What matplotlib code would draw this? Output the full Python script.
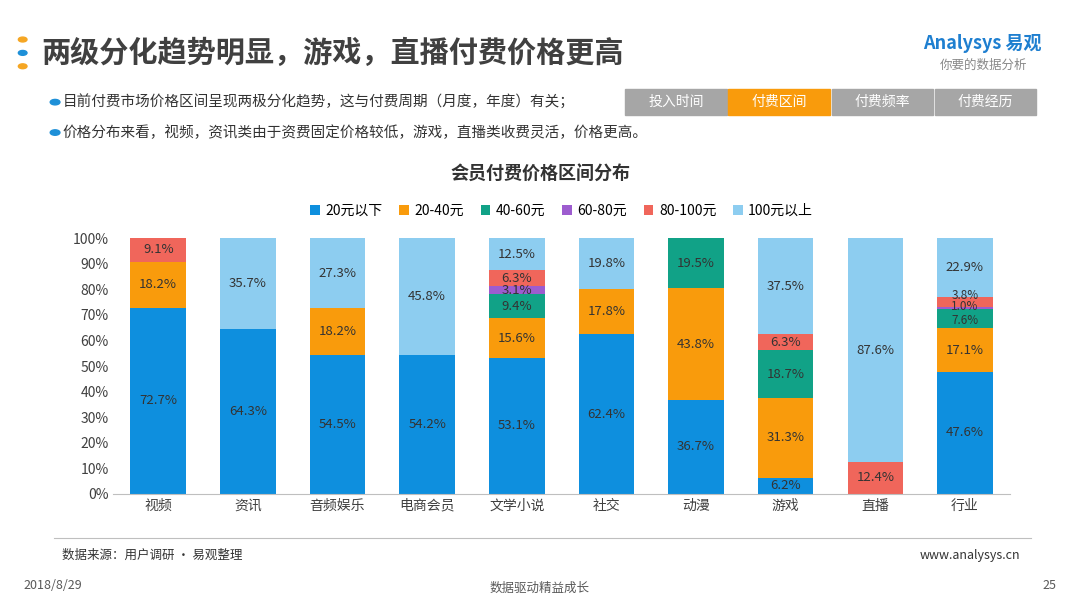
import numpy as np
import matplotlib.pyplot as plt
from matplotlib.patches import Rectangle

plt.rcParams['font.family'] = ['Noto Sans CJK SC', 'DejaVu Sans']

categories = ['视频', '资讯', '音频娱乐', '电商会员', '文学小说', '社交', '动漫', '游戏', '直播', '行业']
series_names = ['20元以下', '20-40元', '40-60元', '60-80元', '80-100元', '100元以上']
s20 = [72.7, 64.3, 54.5, 54.2, 53.1, 62.4, 36.7, 6.2, 0, 47.6]
s40 = [18.2, 0, 18.2, 0, 15.6, 17.8, 43.8, 31.3, 0, 17.1]
s60 = [0, 0, 0, 0, 9.4, 0, 19.5, 18.7, 0, 7.6]
s80 = [0, 0, 0, 0, 3.1, 0, 0, 0, 0, 1.0]
s100 = [9.1, 0, 0, 0, 6.3, 0, 0, 6.3, 12.4, 3.8]
s_up = [0, 35.7, 27.3, 45.8, 12.5, 19.8, 0, 37.5, 87.6, 22.9]
series = [s20, s40, s60, s80, s100, s_up]
colors = ['#0e8fde', '#f99b0c', '#11a287', '#9d5ccf', '#f0665b', '#8dcdf0']

fig = plt.figure(figsize=(10.8, 6.08), dpi=100)
fig.patch.set_facecolor('white')

# header
fig.text(0.038, 0.913, '两级分化趋势明显，游戏，直播付费价格更高', fontsize=21, weight='bold', color='#404040', va='center')
for y, c in [(0.935, '#f5a623'), (0.913, '#1e90d8'), (0.891, '#f5a623')]:
    fig.patches.append(plt.Circle((0.021, y), 0.004, transform=fig.transFigure, color=c))
fig.text(0.855, 0.928, 'Analysys 易观', fontsize=13, color='#1e7fd0', weight='bold', va='center')
fig.text(0.87, 0.893, '你要的数据分析', fontsize=9, color='#888888', style='italic', va='center')
for y, t in [(0.832, '目前付费市场价格区间呈现两极分化趋势，这与付费周期（月度，年度）有关；'),
             (0.782, '价格分布来看，视频，资讯类由于资费固定价格较低，游戏，直播类收费灵活，价格更高。')]:
    fig.patches.append(plt.Circle((0.051, y), 0.0045, transform=fig.transFigure, color='#1e90d8'))
    fig.text(0.058, y, t, fontsize=10.5, color='#333333', va='center')
tabs = ['投入时间', '付费区间', '付费频率', '付费经历']
for i, t in enumerate(tabs):
    x0 = 0.579 + i * 0.0955
    fig.patches.append(Rectangle((x0, 0.811), 0.094, 0.043, transform=fig.transFigure,
                                 color='#f99b0c' if i == 1 else '#a6a6a6'))
    fig.text(x0 + 0.047, 0.832, t, fontsize=10, color='white', ha='center', va='center')

fig.text(0.5, 0.713, '会员付费价格区间分布', fontsize=13, weight='bold', color='#333333', ha='center', va='center')

ax = fig.add_axes([0.105, 0.188, 0.83, 0.42])
x = np.arange(len(categories))
bottom = np.zeros(len(categories))
# label nudges for crowded thin segments (category index, series index) -> offset in %
nudge = {(9, 4): 2.6, (9, 3): 0.7, (9, 2): -0.6}
for si, (vals, name, col) in enumerate(zip(series, series_names, colors)):
    vals = np.array(vals)
    ax.bar(x, vals, 0.62, bottom=bottom, color=col, label=name)
    for xi, v, b in zip(range(len(categories)), vals, bottom):
        if v > 0:
            small = xi == 9 and si in (2, 3, 4)
            ax.text(xi, b + v / 2 + nudge.get((xi, si), 0), f'{v:.1f}%', ha='center', va='center',
                    fontsize=8.5 if small else 9.5, color='#333333')
    bottom += vals
ax.set_xlim(-0.5, len(categories) - 0.5)
ax.set_ylim(0, 100)
ax.set_yticks(np.arange(0, 101, 10))
ax.set_yticklabels([f'{v}%' for v in range(0, 101, 10)], fontsize=10, color='#404040')
ax.set_xticks(x)
ax.set_xticklabels(categories, fontsize=10, color='#404040')
ax.tick_params(length=0)
for s in ['top', 'right', 'left']:
    ax.spines[s].set_visible(False)
ax.spines['bottom'].set_color('#bfbfbf')
ax.legend(loc='lower center', bbox_to_anchor=(0.5, 1.03), ncol=6, frameon=False, fontsize=10,
          handlelength=0.7, handleheight=0.7, columnspacing=1.2, handletextpad=0.4)

fig.lines.append(plt.Line2D([0.05, 0.955], [0.115, 0.115], transform=fig.transFigure, color='#bfbfbf', lw=0.8))
fig.text(0.057, 0.087, '数据来源：用户调研 · 易观整理', fontsize=9, color='#333333', va='center')
fig.text(0.945, 0.087, 'www.analysys.cn', fontsize=9, color='#333333', ha='right', va='center')
fig.text(0.022, 0.037, '2018/8/29', fontsize=9, color='#595959', va='center')
fig.text(0.5, 0.033, '数据驱动精益成长', fontsize=9, color='#595959', ha='center', va='center')
fig.text(0.978, 0.037, '25', fontsize=9, color='#595959', ha='right', va='center')

fig.savefig('out.png', dpi=100)
